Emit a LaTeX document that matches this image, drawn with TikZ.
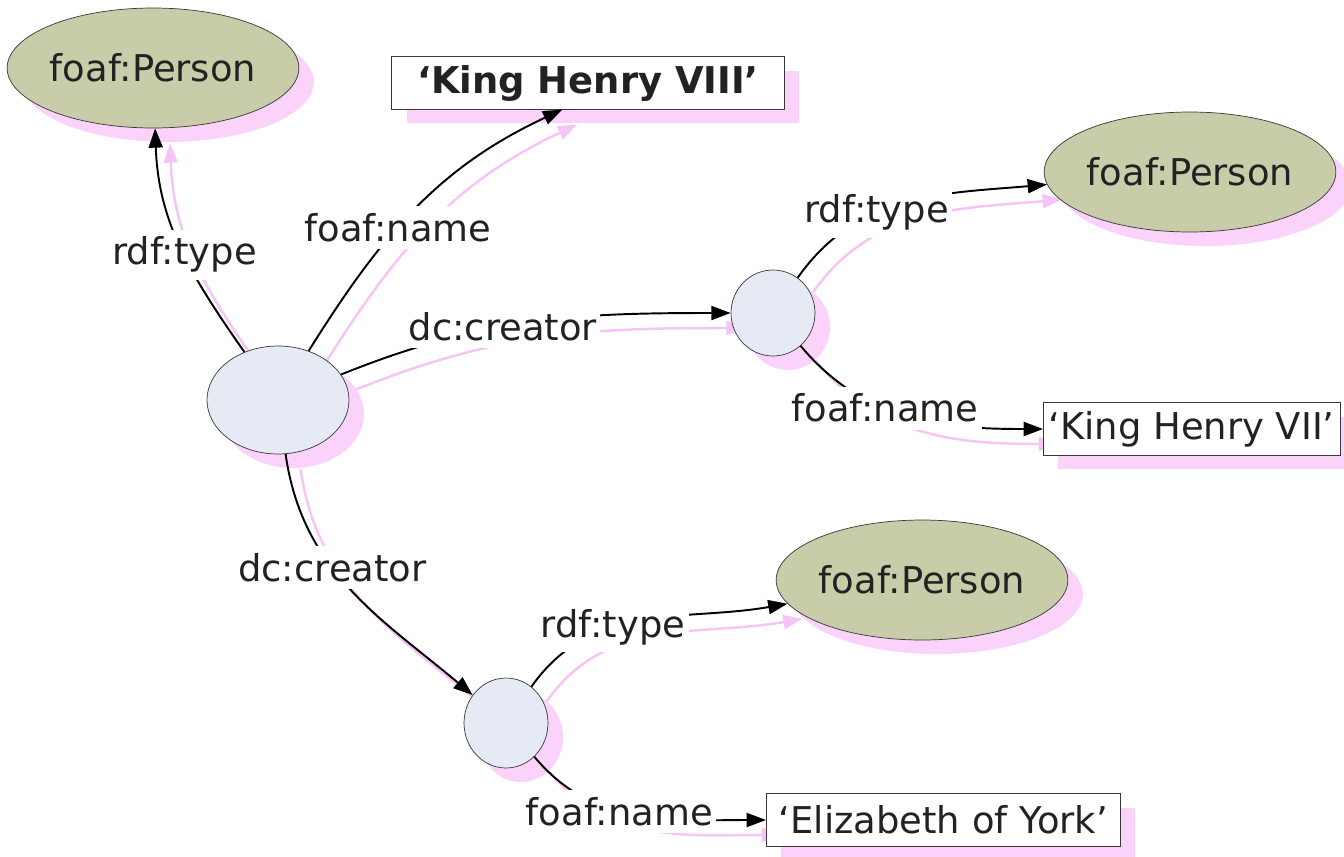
\documentclass[tikz,border=0pt]{standalone}
\usepackage{fontspec}
\setmainfont{DejaVu Sans}
\usepackage{xcolor}
\usepackage{tikz}
\usetikzlibrary{arrows.meta,shapes.geometric,shadows,backgrounds}

\definecolor{olive}{HTML}{C8CCA8}
\definecolor{blank}{HTML}{E6EAF4}
\definecolor{shpink}{HTML}{FAD2FA}
\definecolor{linkpink}{HTML}{F6C4F6}
\definecolor{ink}{HTML}{222222}

\begin{document}
\begin{tikzpicture}[
  x=0.02cm, y=-0.02cm,
  every node/.style={text=ink, font=\fontsize{21}{24}\selectfont},
  pink shadow/.style={drop shadow={shadow xshift=0.3cm, shadow yshift=-0.28cm,
    fill=shpink, opacity=1}},
  cls/.style={ellipse, draw=ink!90, fill=olive, inner sep=0pt,
    minimum width=5.7cm, minimum height=2.4cm, pink shadow},
  res/.style={ellipse, draw=ink!90, fill=blank, inner sep=0pt, pink shadow},
  lit/.style={rectangle, draw=ink!90, fill=white, inner xsep=0.15cm,
    minimum height=1.05cm, pink shadow},
  lbl/.style={fill=white, inner xsep=2pt, inner ysep=4pt},
  tip/.style={-{Triangle[length=11pt,width=8pt]}},
  link/.style={line width=1.1pt, draw=black, tip},
  linkshade/.style={line width=1.4pt, draw=linkpink, tip,
    transform canvas={shift={(0.3cm,-0.3cm)}}}
]
  \useasboundingbox (0,0) rectangle (1344,856);

  % nodes
  \node[res, minimum width=2.84cm, minimum height=2.16cm] (b0) at (278,400) {};
  \node[res, minimum width=1.68cm, minimum height=1.72cm] (b1) at (773,313) {};
  \node[res, minimum width=1.68cm, minimum height=1.8cm] (b2) at (506,723) {};

  \node[cls, minimum width=5.56cm] (p1) at (153,68) {foaf:Person};
  \node[cls] (p2) at (1190,172) {foaf:Person};
  \node[cls] (p3) at (922,580) {foaf:Person};

  \node[lit, minimum width=7.86cm, font=\fontsize{21}{24}\selectfont\bfseries]
    (k8) at (588,83) {`King Henry VIII'};
  \node[lit, anchor=west, inner xsep=3pt] (k7) at (1043,429) {`King Henry VII'};
  \node[lit, anchor=west, inner xsep=0.25cm] (ey) at (766,820) {`Elizabeth of York'};

  % links: from/out/in/to/label pos/label
  \foreach \from/\out/\in/\to/\pos/\txt in {
      b0/125/-88/p1/0.46/rdf:type,
      b0/58/205/k8.226/0.42/foaf:name,
      b0/22/180/b1/0.42/dc:creator,
      b0/-82/140/b2/0.4/dc:creator,
      b1/55/185/p2/0.38/rdf:type,
      b1/-50/180/k7/0.4/foaf:name,
      b2/55/190/p3/0.38/rdf:type,
      b2/-50/180/ey/0.42/foaf:name}
  {
    \begin{scope}[on background layer]
      \draw[linkshade] (\from) to[out=\out,in=\in] (\to);
    \end{scope}
    \draw[link] (\from) to[out=\out,in=\in]
      node[lbl, pos=\pos] {\txt} (\to);
  }
\end{tikzpicture}
\end{document}
